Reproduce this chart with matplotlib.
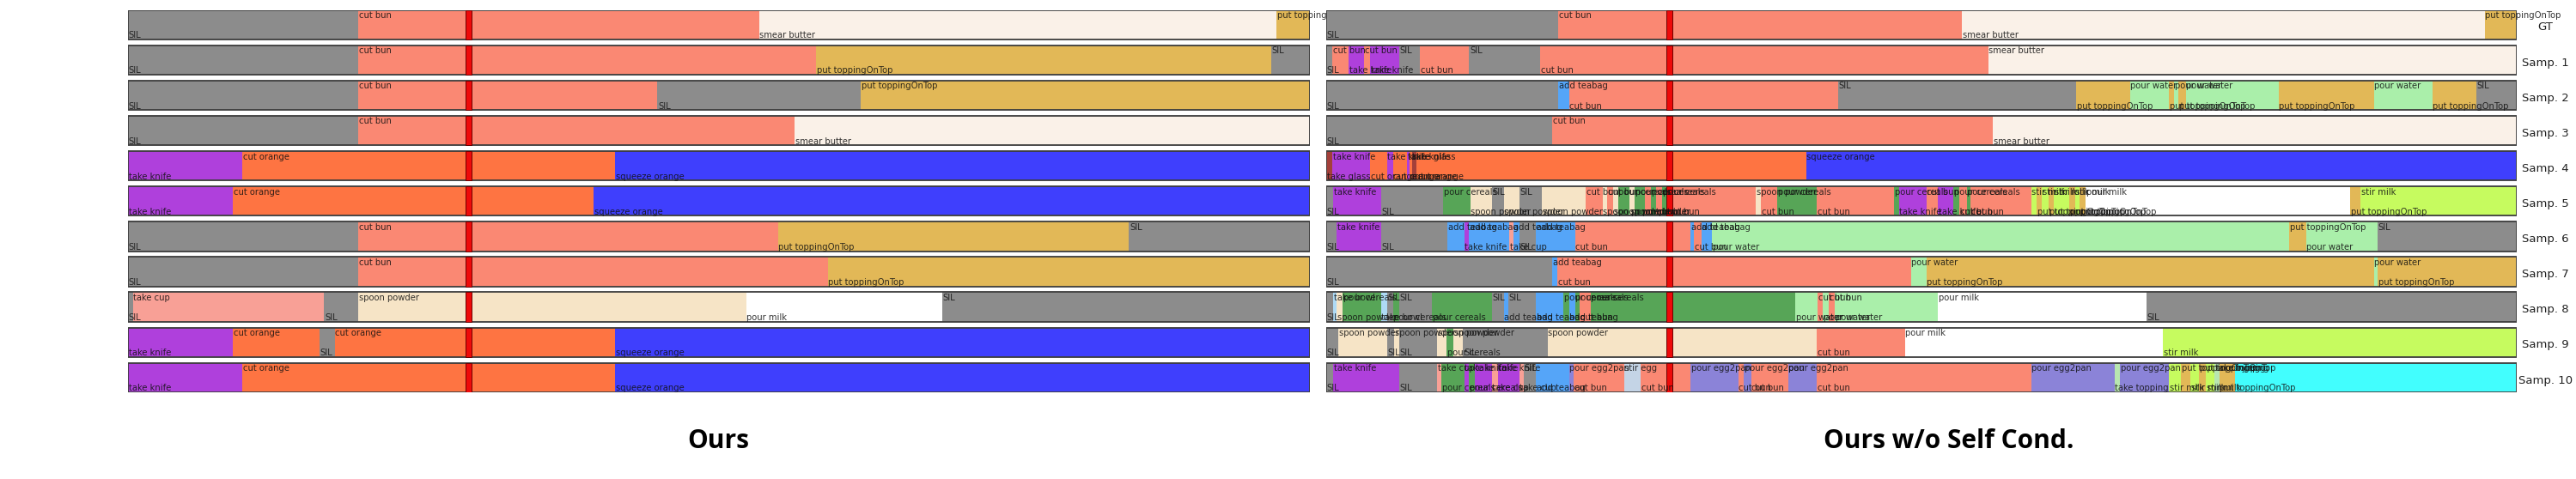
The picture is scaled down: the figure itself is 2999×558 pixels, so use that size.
import matplotlib
matplotlib.use('Agg')
import matplotlib.pyplot as plt
from matplotlib.patches import Rectangle

# ---------------- data (segment label, start in % of video) ----------------
row_names = ['GT', 'Samp. 1', 'Samp. 2', 'Samp. 3', 'Samp. 4', 'Samp. 5',
             'Samp. 6', 'Samp. 7', 'Samp. 8', 'Samp. 9', 'Samp. 10']
panel_titles = ['Ours', 'Ours w/o Self Cond.']
observed_pct = 28.8

ours_gt = [('SIL', 0), ('cut bun', 19.5), ('smear butter', 53.4), ('put toppingOnTop', 97.2)]
ours_s1 = [('SIL', 0), ('cut bun', 19.5), ('put toppingOnTop', 58.2), ('SIL', 96.7)]
ours_s2 = [('SIL', 0), ('cut bun', 19.5), ('SIL', 44.8), ('put toppingOnTop', 62.0)]
ours_s3 = [('SIL', 0), ('cut bun', 19.5), ('smear butter', 56.4)]
ours_s4 = [('take knife', 0), ('cut orange', 9.7), ('squeeze orange', 41.2)]
ours_s5 = [('take knife', 0), ('cut orange', 8.9), ('squeeze orange', 39.4)]
ours_s6 = [('SIL', 0), ('cut bun', 19.5), ('put toppingOnTop', 55.0), ('SIL', 84.7)]
ours_s7 = [('SIL', 0), ('cut bun', 19.5), ('put toppingOnTop', 59.2)]
ours_s8 = [('SIL', 0), ('take cup', 0.4), ('SIL', 16.6), ('spoon powder', 19.5),
           ('pour milk', 52.3), ('SIL', 68.9)]
ours_s9 = [('take knife', 0), ('cut orange', 8.9), ('SIL', 16.2), ('cut orange', 17.5),
           ('squeeze orange', 41.2)]
ours_s10 = [('take knife', 0), ('cut orange', 9.7), ('squeeze orange', 41.2)]

nosc_gt = [('SIL', 0), ('cut bun', 19.5), ('smear butter', 53.4), ('put toppingOnTop', 97.3)]
nosc_s1 = [('SIL', 0), ('cut bun', 0.5), ('take knife', 1.9), ('cut bun', 3.2), ('take knife', 3.7),
           ('SIL', 6.1), ('cut bun', 7.9), ('SIL', 12.0), ('cut bun', 18.0), ('smear butter', 55.6)]
nosc_s2 = [('SIL', 0), ('add teabag', 19.5), ('cut bun', 20.4), ('SIL', 43.0),
           ('put toppingOnTop', 63.0), ('pour water', 67.5), ('put toppingOnTop', 70.8),
           ('pour water', 71.2), ('put toppingOnTop', 71.6), ('pour water', 72.2),
           ('put toppingOnTop', 80.0), ('pour water', 88.0), ('put toppingOnTop', 92.9), ('SIL', 96.6)]
nosc_s3 = [('SIL', 0), ('cut bun', 19.0), ('smear butter', 56.0)]
nosc_s4 = [('take glass', 0), ('take knife', 0.5), ('cut orange', 3.7), ('take knife', 5.1),
           ('cut orange', 5.6), ('take knife', 6.8), ('cut orange', 7.0), ('take glass', 7.2),
           ('cut orange', 7.6), ('squeeze orange', 40.3)]
nosc_s5 = [('SIL', 0), ('take knife', 0.6), ('SIL', 4.6), ('pour cereals', 9.8), ('spoon powder', 12.1),
           ('SIL', 13.9), ('spoon powder', 14.9), ('SIL', 16.2), ('spoon powder', 18.1), ('cut bun', 21.8),
           ('spoon powder', 23.2), ('cut bun', 23.6), ('spoon powder', 24.1), ('pour cereals', 24.5),
           ('spoon powder', 25.5), ('pour cereals', 25.9), ('cut bun', 26.8), ('pour cereals', 27.3),
           ('cut bun', 27.7), ('pour cereals', 28.2), ('cut bun', 28.6), ('spoon powder', 36.1),
           ('cut bun', 36.5), ('pour cereals', 37.9), ('cut bun', 41.2), ('pour cereals', 47.7),
           ('take knife', 48.1), ('cut bun', 50.4), ('take knife', 51.4), ('pour cereals', 52.7),
           ('cut bun', 53.2), ('pour cereals', 53.8), ('cut bun', 54.1), ('stir milk', 59.2),
           ('put toppingOnTop', 59.7), ('stir milk', 60.1), ('put toppingOnTop', 60.7),
           ('stir milk', 61.1), ('put toppingOnTop', 62.4), ('stir milk', 62.9),
           ('put toppingOnTop', 63.3), ('pour milk', 63.8), ('put toppingOnTop', 86.0),
           ('stir milk', 86.9)]
nosc_s6 = [('SIL', 0), ('take knife', 0.9), ('SIL', 4.6), ('add teabag', 10.2), ('take knife', 11.6),
           ('add teabag', 12.0), ('take cup', 15.4), ('add teabag', 15.7), ('SIL', 16.2),
           ('add teabag', 17.6), ('cut bun', 20.9), ('add teabag', 30.6), ('cut bun', 30.9),
           ('add teabag', 31.5), ('pour water', 32.4), ('put toppingOnTop', 80.9),
           ('pour water', 82.3), ('SIL', 88.3)]
nosc_s7 = [('SIL', 0), ('add teabag', 19.0), ('cut bun', 19.4), ('pour water', 49.1),
           ('put toppingOnTop', 50.4), ('pour water', 88.0), ('put toppingOnTop', 88.3)]
nosc_s8 = [('SIL', 0), ('take bowl', 0.6), ('spoon powder', 0.9), ('pour cereals', 1.4),
           ('take bowl', 4.6), ('SIL', 5.1), ('pour cereals', 5.6), ('SIL', 6.1),
           ('pour cereals', 8.9), ('SIL', 13.9), ('add teabag', 14.9), ('SIL', 15.3),
           ('add teabag', 17.6), ('pour cereals', 19.9), ('add teabag', 20.4), ('pour cereals', 20.9),
           ('cut bun', 21.3), ('pour cereals', 22.2), ('pour water', 39.4), ('cut bun', 41.3),
           ('pour water', 41.7), ('cut bun', 42.2), ('pour water', 42.7), ('pour milk', 51.4),
           ('SIL', 68.9)]
nosc_s9 = [('SIL', 0), ('spoon powder', 1.0), ('SIL', 5.1), ('spoon powder', 5.7), ('SIL', 6.1),
           ('spoon powder', 9.3), ('pour cereals', 10.1), ('spoon powder', 10.7), ('SIL', 11.5),
           ('spoon powder', 18.6), ('cut bun', 41.2), ('pour milk', 48.6), ('stir milk', 70.3)]
nosc_s10 = [('SIL', 0), ('take knife', 0.6), ('SIL', 6.1), ('take cup', 9.3), ('pour cereals', 9.7),
            ('take knife', 11.6), ('pour cereals', 12.0), ('take knife', 12.5), ('take cup', 13.9),
            ('take knife', 14.4), ('take cup', 16.2), ('SIL', 16.6), ('add teabag', 17.6),
            ('pour egg2pan', 20.4), ('cut bun', 20.8), ('stir egg', 25.0), ('cut bun', 26.4),
            ('pour egg2pan', 30.6), ('cut bun', 34.6), ('pour egg2pan', 35.1), ('cut bun', 35.7),
            ('pour egg2pan', 38.8), ('cut bun', 41.2), ('pour egg2pan', 59.2), ('take topping', 66.2),
            ('pour egg2pan', 66.7), ('stir milk', 70.8), ('put toppingOnTop', 71.8), ('stir milk', 72.6),
            ('put toppingOnTop', 73.3), ('stir milk', 73.9), ('take topping', 74.6),
            ('put toppingOnTop', 75.0), ('fry egg', 76.3)]

ours_rows = [ours_gt, ours_s1, ours_s2, ours_s3, ours_s4, ours_s5, ours_s6, ours_s7,
             ours_s8, ours_s9, ours_s10]
nosc_rows = [nosc_gt, nosc_s1, nosc_s2, nosc_s3, nosc_s4, nosc_s5, nosc_s6, nosc_s7,
             nosc_s8, nosc_s9, nosc_s10]

action_colors = {
    'SIL': '#8c8c8c', 'cut bun': '#fa8873', 'smear butter': '#faf1e8',
    'put toppingOnTop': '#e2b857', 'take knife': '#af40dc', 'cut orange': '#fe7442',
    'squeeze orange': '#3f3ffd', 'take cup': '#f8a096', 'spoon powder': '#f6e4c6',
    'pour milk': '#ffffff', 'add teabag': '#55a5f8', 'pour water': '#aaefaa',
    'pour cereals': '#57a557', 'stir milk': '#c6fb5f', 'take glass': '#a3403a',
    'take bowl': '#aedaf5', 'pour egg2pan': '#8b83d8', 'stir egg': '#c4d4e6',
    'fry egg': '#42fefe', 'take topping': '#b8e6b0',
}

# ---------------- layout ----------------
W, H = 2999, 558
fig = plt.figure(figsize=(W / 100, H / 100), dpi=100)
row_h = 0.836
n_rows = len(row_names)
top_px, bot_px = 11.5, 457.0
panels = [(149, 1376, ours_rows), (1544, 1386, nosc_rows)]
label_kw = dict(fontsize=8, color='#111111', alpha=0.85, fontstretch='condensed',
                family='DejaVu Sans', clip_on=False, zorder=5)

axes = []
for (x0, w, rows) in panels:
    ax = fig.add_axes([x0 / W, 1 - bot_px / H, w / W, (bot_px - top_px) / H])
    ax.set_xlim(0, 100)
    ax.set_ylim(n_rows - 1 + row_h, 0)
    ax.axis('off')
    axes.append(ax)
    for i, row in enumerate(rows):
        starts = [s for _, s in row]
        ends = starts[1:] + [100]
        spans = [(s, e - s) for s, e in zip(starts, ends)]
        cols = [action_colors[a] for a, _ in row]
        ax.broken_barh(spans, (i, row_h), facecolors=cols, edgecolor='none', zorder=1)
        ax.add_patch(Rectangle((0, i), 100, row_h, fill=False, ec='#3c3c3c', lw=1.3, zorder=3))
        ax.add_patch(Rectangle((observed_pct - 0.25, i), 0.5, row_h, fc='#ee0a0a',
                               ec='#6a0000', lw=0.7, zorder=4))
        for k, (a, s) in enumerate(row):
            if k % 2 == 0:
                ax.text(s + 0.05, i + row_h + 0.01, a, va='bottom', ha='left', **label_kw)
            else:
                ax.text(s + 0.05, i + 0.04, a, va='top', ha='left', **label_kw)

# row names on the right of the second panel
for i, name in enumerate(row_names):
    axes[1].text(102.4, i + row_h / 2 + 0.08, name, ha='center', va='center',
                 fontsize=9.5, color='#222222', clip_on=False)

title_font = ['Open Sans', 'DejaVu Sans']
fig.text(836 / W, 1 - 514 / H, panel_titles[0], ha='center', va='center',
         fontsize=21.5, fontweight='bold', family=title_font)
fig.text(2269 / W, 1 - 514 / H, panel_titles[1], ha='center', va='center',
         fontsize=21.5, fontweight='bold', family=title_font)

fig.savefig('out.png', dpi=100, facecolor='white')
